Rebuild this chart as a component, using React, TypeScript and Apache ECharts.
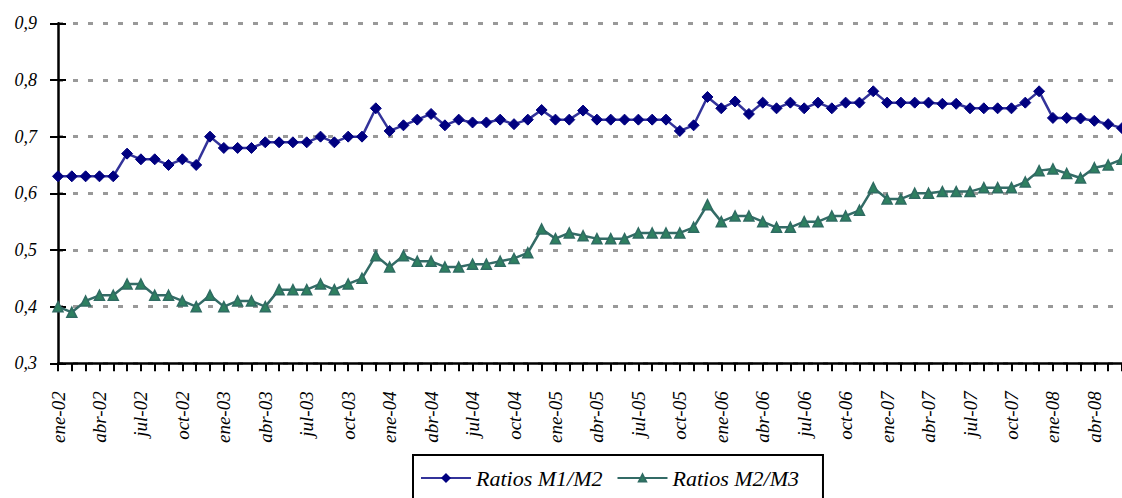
import React, { useEffect, useRef } from "react";
import * as echarts from "echarts";

const monthNames = ["ene", "feb", "mar", "abr", "may", "jun", "jul", "ago", "sep", "oct", "nov", "dic"];
const yearNames = ["02", "03", "04", "05", "06", "07", "08"];
const categories: string[] = [];
yearNames.forEach((y) => monthNames.forEach((m) => categories.push(`${m}-${y}`)));
categories.length = 78; // ene-02 .. jun-08

const ratiosM1M2 = [
  0.63, 0.63, 0.63, 0.63, 0.63, 0.67, 0.66, 0.66, 0.65, 0.66, 0.65, 0.70,
  0.68, 0.68, 0.68, 0.69, 0.69, 0.69, 0.69, 0.70, 0.69, 0.70, 0.70, 0.75,
  0.71, 0.72, 0.73, 0.74, 0.72, 0.73, 0.725, 0.725, 0.73, 0.722, 0.73, 0.747,
  0.73, 0.73, 0.746, 0.73, 0.73, 0.73, 0.73, 0.73, 0.73, 0.71, 0.72, 0.77,
  0.75, 0.762, 0.74, 0.76, 0.75, 0.76, 0.75, 0.76, 0.75, 0.76, 0.76, 0.78,
  0.76, 0.76, 0.76, 0.76, 0.758, 0.758, 0.75, 0.75, 0.75, 0.75, 0.76, 0.78,
  0.733, 0.733, 0.732, 0.728, 0.722, 0.715,
];

const ratiosM2M3 = [
  0.40, 0.39, 0.41, 0.42, 0.42, 0.44, 0.44, 0.42, 0.42, 0.41, 0.40, 0.42,
  0.40, 0.41, 0.41, 0.40, 0.43, 0.43, 0.43, 0.44, 0.43, 0.44, 0.45, 0.49,
  0.47, 0.49, 0.48, 0.48, 0.47, 0.47, 0.475, 0.475, 0.48, 0.485, 0.495, 0.537,
  0.52, 0.53, 0.525, 0.52, 0.52, 0.52, 0.53, 0.53, 0.53, 0.53, 0.54, 0.58,
  0.55, 0.56, 0.56, 0.55, 0.54, 0.54, 0.55, 0.55, 0.56, 0.56, 0.57, 0.61,
  0.59, 0.59, 0.60, 0.60, 0.603, 0.603, 0.603, 0.61, 0.61, 0.61, 0.62, 0.64,
  0.643, 0.635, 0.627, 0.645, 0.65, 0.66,
];

const seriesNames = ["Ratios M1/M2", "Ratios M2/M3"];
const FONT = "Liberation Serif";

export default function App() {
  const ref = useRef<HTMLDivElement>(null);
  useEffect(() => {
    if (!ref.current) return;
    const chart = echarts.init(ref.current, null, { renderer: "svg" });
    const yCommon = {
      type: "value",
      min: 0.3,
      max: 0.9,
      interval: 0.1,
      position: "left",
    };
    chart.setOption({
      animation: false,
      backgroundColor: "#ffffff",
      grid: { left: 58, top: 23.3, right: -5, bottom: 134.7, containLabel: false },
      legend: {
        left: 413,
        top: 455,
        data: seriesNames,
        orient: "horizontal",
        itemWidth: 50,
        itemHeight: 9,
        itemGap: 14,
        borderColor: "#000",
        borderWidth: 2,
        padding: [12, 24, 20, 7],
        textStyle: { fontFamily: FONT, fontStyle: "italic", fontSize: 22, color: "#000" },
      },
      xAxis: {
        type: "category",
        data: categories,
        boundaryGap: false,
        axisLine: { show: true, lineStyle: { color: "#000", width: 2.5 } },
        axisTick: { show: true, interval: 0, length: 8, lineStyle: { color: "#000", width: 2 } },
        axisLabel: {
          interval: 2,
          rotate: 90,
          margin: 28,
          fontFamily: FONT,
          fontStyle: "italic",
          fontSize: 19,
          color: "#000",
        },
        splitLine: { show: false },
      },
      yAxis: [
        {
          ...yCommon,
          axisLine: { show: true, lineStyle: { color: "#000", width: 2.5 } },
          axisTick: { show: true, length: 8, lineStyle: { color: "#000", width: 2 } },
          axisLabel: {
            margin: 21,
            fontFamily: FONT,
            fontStyle: "italic",
            fontSize: 18,
            color: "#000",
            formatter: (v: number) => v.toFixed(1).replace(".", ","),
          },
          splitLine: { show: true, lineStyle: { color: "#999", width: 3, type: [5, 10] } },
        },
        {
          ...yCommon,
          axisLine: { show: false },
          axisTick: { show: true, inside: true, length: 8, lineStyle: { color: "#000", width: 2 } },
          axisLabel: { show: false },
          splitLine: { show: false },
        },
      ],
      series: [
        {
          name: seriesNames[0],
          type: "line",
          data: ratiosM1M2,
          symbol: "diamond",
          symbolSize: 11,
          showAllSymbol: true,
          lineStyle: { color: "#33339a", width: 2.5 },
          itemStyle: { color: "#000080", borderColor: "#000080", borderWidth: 1 },
          z: 3,
        },
        {
          name: seriesNames[1],
          type: "line",
          data: ratiosM2M3,
          symbol: "triangle",
          symbolSize: 10,
          showAllSymbol: true,
          lineStyle: { color: "#336b66", width: 2.5 },
          itemStyle: { color: "#2e8060", borderColor: "#2f6b62", borderWidth: 1.5 },
          z: 2,
        },
      ],
    });
    return () => chart.dispose();
  }, []);
  return (
    <div
      style={{ position: "fixed", left: 0, top: 0, width: 1122, height: 498, overflow: "hidden", background: "#fff" }}
    >
      <div ref={ref} style={{ width: 1122, height: 498 }} />
    </div>
  );
}
